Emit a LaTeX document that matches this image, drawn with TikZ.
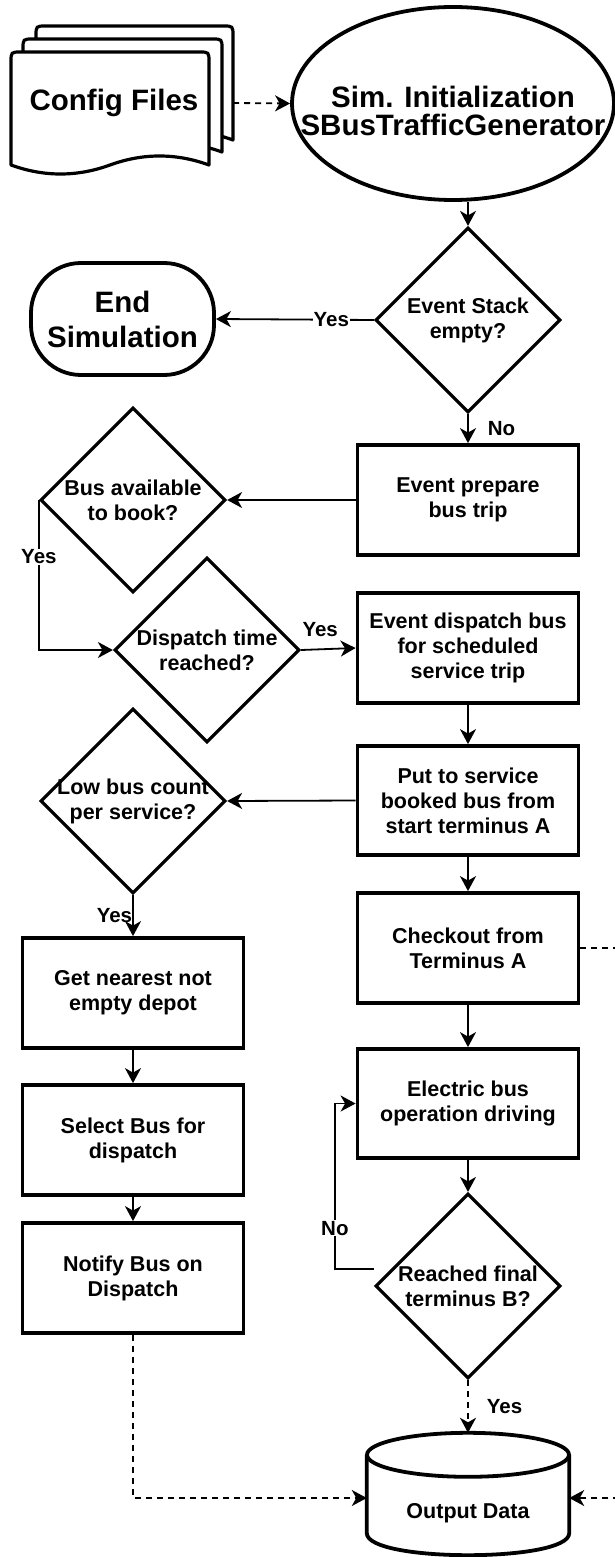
\documentclass[tikz,border=0pt]{standalone}
\usepackage{fontspec}
\setmainfont{Liberation Sans}
\usetikzlibrary{arrows.meta,shapes.geometric,calc}

% one stacked sheet of the multi-document symbol: left, top, right, corner y of the wavy bottom
\newcommand{\docsheet}[4]{%
  \filldraw[fill=white, line width=3.2pt, line join=round]
    (#1,#4) -- (#1,#2+10) .. controls (#1,#2) .. (#1+10,#2)
    -- (#3-10,#2) .. controls (#3,#2) .. (#3,#2+10)
    -- (#3,#4)
    .. controls ({#3-(#3-#1)/6},#4-12) and ({#3-(#3-#1)/3},#4-12) .. ({(#1+#3)/2},#4)
    .. controls ({#1+(#3-#1)/3},#4+12) and ({#1+(#3-#1)/6},#4+12) .. (#1,#4) -- cycle;}

\begin{document}
\begin{tikzpicture}[x=1pt, y=-1pt,
  every node/.style={font=\bfseries\fontsize{21.5}{25}\selectfont, align=center, inner sep=0pt},
  bigtext/.style={font=\bfseries\fontsize{29.5}{35}\selectfont},
  titletext/.style={font=\bfseries\fontsize{29.5}{28}\selectfont},
  lbl/.style={font=\bfseries\fontsize{20.5}{24}\selectfont, inner sep=1pt},
  proc/.style={draw, line width=3.8pt, fill=white, minimum width=221pt, minimum height=110pt},
  decision/.style={draw, diamond, aspect=1, line width=3.2pt, fill=white,
                   minimum width=185pt, minimum height=185pt},
  conn/.style={line width=1.8pt, -{Stealth[length=15pt, width=16pt, inset=4.5pt]}},
  dashconn/.style={conn, dash pattern=on 6pt off 5pt},
]
\useasboundingbox (0,0) rectangle (615,1557);

% ---- configuration files (multi-document) ----
\docsheet{36}{26}{233}{140}
\docsheet{23}{39}{222}{152}
\docsheet{11}{52}{209}{165}
\node[minimum width=222pt, minimum height=100pt] (cfg) at (122,103) {};
\node[bigtext] (cfgtext) at (114,103) {Config Files};

% ---- simulation start / end ----
\node[draw, ellipse, line width=3.8pt, minimum width=322pt, minimum height=193pt,
      label={[titletext, yshift=-7pt]center:Sim. Initialization\\SBusTrafficGenerator}]
      (init) at (453,103.5) {};
\node[decision, label={center:Event Stack\\empty?}] (stack) at (468,320) {};
\node[draw, line width=3.8pt, rounded corners=50pt, minimum width=183pt, minimum height=112pt,
      bigtext] (endsim) at (122.5,319) {End\\Simulation};

% ---- right column ----
\node[proc] (prep) at (468,500) {Event prepare\\bus trip};
\node[proc] (disp) at (468,648) {Event dispatch bus\\for scheduled\\service trip};
\node[proc, minimum height=109pt] (put) at (468,800.5) {Put to service\\booked bus from\\start terminus A};
\node[proc] (chk) at (468,948) {Checkout from\\Terminus A};
\node[proc, minimum height=109pt] (elec) at (468,1103.5) {Electric bus\\operation driving};
\node[decision, label={center:Reached final\\terminus B?}] (reach) at (468,1286) {};

% ---- left column ----
\node[decision, label={center:Bus available\\to book?}] (avail) at (133,500) {};
\node[decision, label={center:Dispatch time\\reached?}] (dtime) at (207,650) {};
\node[decision, label={center:Low bus count\\per service?}] (low) at (133,801) {};
\node[proc] (near) at (133,993) {Get nearest not\\empty depot};
\node[proc] (sel) at (133,1140) {Select Bus for\\dispatch};
\node[proc] (notif) at (133,1278) {Notify Bus on\\Dispatch};

% ---- output data store (cylinder) ----
\node[minimum width=202pt, minimum height=122pt,
      label={[yshift=-19pt]center:Output Data}] (out) at (468,1494) {};
\begin{scope}[line width=3.8pt]
  \draw ($(out.north west)+(0,22)$) -- ($(out.south west)+(0,-22)$)
    .. controls ($(out.south west)+(0,7.3)$) and ($(out.south east)+(0,7.3)$) .. ($(out.south east)+(0,-22)$)
    -- ($(out.north east)+(0,22)$);
  \draw ($(out.north)+(0,22)$) ellipse [x radius=101pt, y radius=22pt];
\end{scope}

% ---- connectors ----
\draw[dashconn] (cfg.east) -- (init.west);
\draw[conn] (stack.north |- init.south) -- (stack.north);
\draw[conn] (stack.west) -- node[lbl, fill=white, pos=0.27] {Yes} (endsim.east);
\draw[conn] (stack.south) -- node[lbl, right=18pt] {No} (prep.north);
\draw[conn] (prep.west) -- (avail.east);
\draw[conn] (avail.west) -- node[lbl, fill=white, pos=0.38] {Yes} (avail.west |- dtime.west) -- (dtime.west);
\draw[conn] (dtime.east) -- node[lbl, above=11pt, pos=0.35] {Yes} (disp.west);
\draw[conn] (disp.south) -- (put.north);
\draw[conn] (put.west) -- (low.east);
\draw[conn] (low.south) -- node[lbl, left=0pt, inner sep=0pt] {Yes} (near.north);
\draw[conn] (near.south) -- (sel.north);
\draw[conn] (sel.south) -- (notif.north);
\draw[conn] (put.south) -- (chk.north);
\draw[conn] (chk.south) -- (elec.north);
\draw[conn] (elec.south) -- (reach.north);
\draw[conn] ([yshift=17pt]reach.west) -- ++(-39,0)
   |- node[lbl, fill=white, pos=0.123] {No} (elec.west);
\draw[dashconn] (reach.south) -- node[lbl, right=17pt] {Yes} (out.north);
\draw[dashconn] (notif.south) |- ([yshift=-4pt]out.west);
\draw[dashconn] (chk.east) -- ++(80,0) |- ([yshift=-4pt]out.east);
\end{tikzpicture}
\end{document}
